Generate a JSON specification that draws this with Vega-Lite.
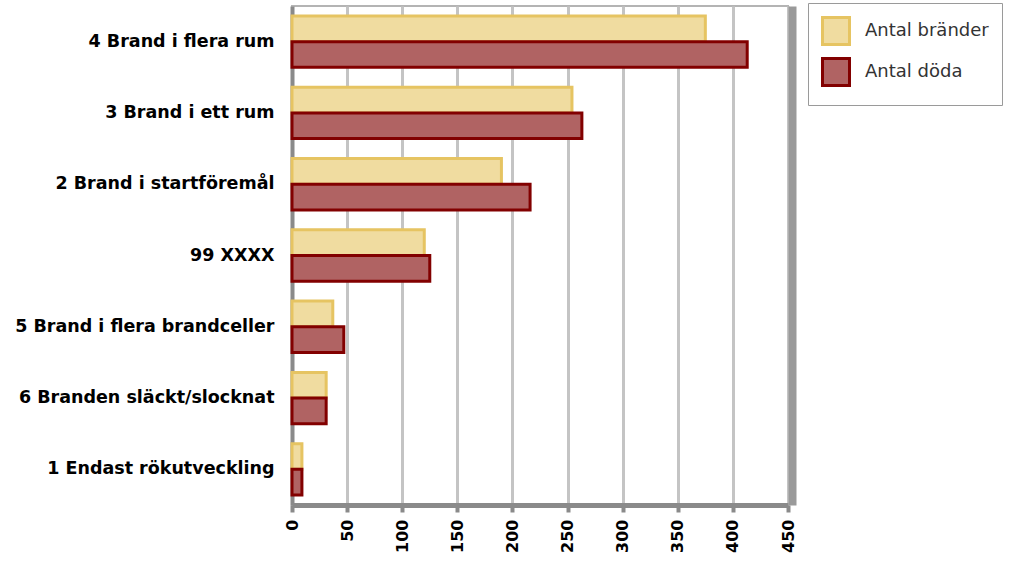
{
  "$schema": "https://vega.github.io/schema/vega-lite/v6.json",
  "width": 496,
  "height": 499,
  "autosize": "none",
  "padding": {"left": 292, "top": 6, "right": 245, "bottom": 59},
  "background": "white",
  "config": {
    "view": {"stroke": "#b4b4b4", "strokeWidth": 2},
    "axis": {"zindex": 0}
  },
  "data": {
    "values": [
      {"typ": "4 Brand i flera rum", "serie": "Antal bränder", "antal": 375},
      {"typ": "4 Brand i flera rum", "serie": "Antal döda", "antal": 413},
      {"typ": "3 Brand i ett rum", "serie": "Antal bränder", "antal": 254},
      {"typ": "3 Brand i ett rum", "serie": "Antal döda", "antal": 263},
      {"typ": "2 Brand i startföremål", "serie": "Antal bränder", "antal": 190},
      {"typ": "2 Brand i startföremål", "serie": "Antal döda", "antal": 216},
      {"typ": "99 XXXX", "serie": "Antal bränder", "antal": 120},
      {"typ": "99 XXXX", "serie": "Antal döda", "antal": 125},
      {"typ": "5 Brand i flera brandceller", "serie": "Antal bränder", "antal": 37},
      {"typ": "5 Brand i flera brandceller", "serie": "Antal döda", "antal": 47},
      {"typ": "6 Branden släckt/slocknat", "serie": "Antal bränder", "antal": 31},
      {"typ": "6 Branden släckt/slocknat", "serie": "Antal döda", "antal": 31},
      {"typ": "1 Endast rökutveckling", "serie": "Antal bränder", "antal": 9},
      {"typ": "1 Endast rökutveckling", "serie": "Antal döda", "antal": 9}
    ]
  },
  "layer": [
    {
      "mark": {"type": "bar", "strokeWidth": 3, "strokeJoin": "miter"},
      "encoding": {
        "y": {
          "field": "typ",
          "type": "nominal",
          "sort": [
            "4 Brand i flera rum",
            "3 Brand i ett rum",
            "2 Brand i startföremål",
            "99 XXXX",
            "5 Brand i flera brandceller",
            "6 Branden släckt/slocknat",
            "1 Endast rökutveckling"
          ],
          "scale": {"paddingInner": 0.28, "paddingOuter": 0.14},
          "axis": {
            "title": null,
            "orient": "left",
            "domainColor": "#8a8a8a",
            "domainWidth": 4,
            "ticks": false,
            "labelPadding": 18,
            "labelFont": "DejaVu Sans",
            "labelFontWeight": "bold",
            "labelFontSize": 17.5,
            "labelColor": "#000000",
            "labelLimit": 400
          }
        },
        "yOffset": {
          "field": "serie",
          "type": "nominal",
          "sort": ["Antal bränder", "Antal döda"]
        },
        "x": {
          "field": "antal",
          "type": "quantitative",
          "scale": {"domain": [0, 450], "nice": false},
          "axis": {
            "title": null,
            "values": [0, 50, 100, 150, 200, 250, 300, 350, 400, 450],
            "grid": true,
            "gridColor": "#c4c4c4",
            "gridWidth": 3,
            "domainColor": "#8a8a8a",
            "domainWidth": 5,
            "tickColor": "#8a8a8a",
            "tickWidth": 4,
            "tickSize": 7,
            "labelAngle": 270,
            "labelPadding": 7,
            "labelFont": "DejaVu Sans",
            "labelFontWeight": "bold",
            "labelFontSize": 16,
            "labelColor": "#000000"
          }
        },
        "color": {
          "field": "serie",
          "type": "nominal",
          "scale": {"domain": ["Antal bränder", "Antal döda"], "range": ["#f0dca0", "#b06363"]},
          "legend": {
            "orient": "none",
            "legendX": 516,
            "legendY": -3,
            "title": "\u00a0\u00a0\u00a0\u00a0\u00a0",
            "titleOrient": "right",
            "titleFontSize": 18,
            "titlePadding": 0,
            "symbolType": "square",
            "symbolSize": 729,
            "symbolStrokeWidth": 3,
            "labelFont": "DejaVu Sans",
            "labelFontSize": 18,
            "labelColor": "#333333",
            "labelOffset": 14,
            "labelLimit": 300,
            "padding": 13,
            "rowPadding": 1,
            "strokeColor": "#9a9a9a",
            "fillColor": "white"
          }
        },
        "stroke": {
          "field": "serie",
          "type": "nominal",
          "scale": {"domain": ["Antal bränder", "Antal döda"], "range": ["#e6c462", "#820000"]}
        }
      }
    },
    {
      "mark": {"type": "bar", "opacity": 0},
      "encoding": {
        "y": {
          "field": "typ",
          "type": "nominal",
          "sort": [
            "4 Brand i flera rum",
            "3 Brand i ett rum",
            "2 Brand i startföremål",
            "99 XXXX",
            "5 Brand i flera brandceller",
            "6 Branden släckt/slocknat",
            "1 Endast rökutveckling"
          ],
          "axis": {
            "orient": "right",
            "title": null,
            "labels": false,
            "ticks": false,
            "grid": false,
            "domainColor": "#9a9a9a",
            "domainWidth": 8,
            "offset": 4,
            "zindex": 1
          }
        }
      }
    }
  ],
  "resolve": {"axis": {"y": "independent"}}
}
